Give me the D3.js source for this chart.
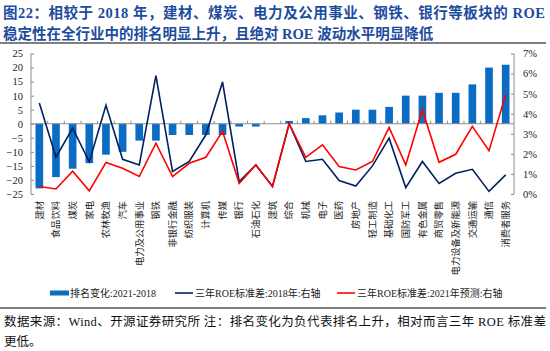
<!DOCTYPE html>
<html><head><meta charset="utf-8">
<script src="https://cdn.jsdelivr.net/npm/d3@7"></script>
<style>
html,body{margin:0;padding:0;background:#fff;}
svg{display:block;}
</style></head>
<body>
<svg id="chart" width="550" height="351"></svg>
<script>
const categories = ["建材","食品饮料","煤炭","家电","农林牧渔","汽车","电力及公用事业","钢铁","非银行金融","纺织服装","计算机","传媒","银行","石油石化","建筑","综合","机械","电子","医药","房地产","轻工制造","基础化工","国防军工","有色金属","商贸零售","电力设备及新能源","交通运输","通信","消费者服务"];
const rankChange = [-23,-19,-16,-14,-11,-10,-6,-6,-4,-4,-4,-4,-1,-1,0,1,2,3,4,5,5,6,10,10,11,11,14,20,21];
const roeStd2018 = [4.53,1.83,3.28,1.6,4.42,1.73,1.45,5.9,1.12,1.62,2.95,5.58,0.62,1.45,0.37,3.5,1.62,1.73,0.67,0.4,1.4,2.78,0.32,1.62,0.53,1.03,1.23,0.13,0.95];
const roeStd2021 = [0.37,0.25,1.14,0.16,1.57,1.28,0.87,2.53,0.87,1.53,1.83,3.12,0.53,1.45,0.37,3.5,1.83,2.45,1.37,1.2,1.62,3.32,1.45,4.2,1.58,1.98,3.37,2.16,4.95];
const leftTicks = [25,20,15,10,5,0,-5,-10,-15,-20,-25];
const rightTicks = [0,1,2,3,4,5,6,7];
const titleLines = ["图22：相较于 2018 年，建材、煤炭、电力及公用事业、钢铁、银行等板块的 ROE","稳定性在全行业中的排名明显上升，且绝对 ROE 波动水平明显降低"];
const legendLabels = ["排名变化:2021-2018","三年ROE标准差:2018年:右轴","三年ROE标准差:2021年预测:右轴"];
const footerLines = ["数据来源：Wind、开源证券研究所 注：排名变化为负代表排名上升，相对而言三年 ROE 标准差","更低。"];

const svg = d3.select("#chart");
const serif = "'Liberation Serif','Times New Roman','Noto Sans CJK SC',serif";
const cjk = "'Liberation Serif','Noto Sans CJK SC',sans-serif";
const blue = "#0A6CC2", navy = "#002060", red = "#FF0000", axisCol = "#8c8c8c";

const L = 31, R = 514, T = 53.5, B = 194;
const x = d3.scaleBand().domain(categories).range([L, R]).paddingInner(0.54).paddingOuter(0.27);
const yL = d3.scaleLinear().domain([-25, 25]).range([B, T]);
const yR = d3.scaleLinear().domain([0, 7]).range([B, T]);
const cx = d => x(d) + x.bandwidth() / 2;

// Title
svg.selectAll("text.title").data(titleLines).join("text")
  .attr("class","title")
  .attr("x", 3).attr("y", (d,i) => 18 + i*20.5)
  .attr("font-family", cjk).attr("font-weight","bold").attr("font-size", 14.5)
  .attr("fill", "#1d4c9e")
  .attr("textLength", (d,i) => i === 0 ? 542 : null)
  .attr("lengthAdjust","spacing")
  .text(d => d);
svg.append("line").attr("x1",0).attr("x2",546).attr("y1",43).attr("y2",43).attr("stroke","#555").attr("stroke-width",1.5);

// Bars
svg.append("g").selectAll("rect").data(categories).join("rect")
  .attr("x", d => x(d)).attr("width", x.bandwidth())
  .attr("y", (d,i) => yL(Math.max(0, rankChange[i])))
  .attr("height", (d,i) => Math.abs(yL(rankChange[i]) - yL(0)))
  .attr("fill", blue);

// Left axis
const gL = svg.append("g").attr("transform", `translate(${L},0)`)
  .call(d3.axisLeft(yL).tickValues(leftTicks).tickSize(-3).tickPadding(8).tickFormat(d3.format("d")));
gL.select(".domain").attr("stroke", axisCol).attr("d", `M0,${T}V${B}`);
gL.selectAll(".tick line").attr("stroke", axisCol);
gL.selectAll(".tick text").attr("font-family", serif).attr("font-size", 10.5).attr("fill","#222");

// Right axis
const gR = svg.append("g").attr("transform", `translate(${R},0)`)
  .call(d3.axisRight(yR).tickValues(rightTicks).tickSize(-3).tickPadding(9).tickFormat(d => d + "%"));
gR.select(".domain").attr("stroke", axisCol).attr("d", `M0,${T}V${B}`);
gR.selectAll(".tick line").attr("stroke", axisCol);
gR.selectAll(".tick text").attr("font-family", serif).attr("font-size", 10.5).attr("fill","#222");

// Zero category axis
const y0 = yL(0);
svg.append("line").attr("x1", L).attr("x2", R).attr("y1", y0).attr("y2", y0).attr("stroke", axisCol).attr("stroke-width",1);
svg.append("g").selectAll("line").data(categories.slice(1)).join("line")
  .attr("x1", d => x(d) - x.step()*x.paddingInner()/2).attr("x2", d => x(d) - x.step()*x.paddingInner()/2)
  .attr("y1", y0).attr("y2", y0 - 3).attr("stroke", axisCol);

// Lines
const line = arr => d3.line().x((d,i) => cx(categories[i])).y(d => yR(d))(arr);
svg.append("path").attr("d", line(roeStd2018)).attr("fill","none").attr("stroke", navy).attr("stroke-width",1.6).attr("stroke-linejoin","miter");
svg.append("path").attr("d", line(roeStd2021)).attr("fill","none").attr("stroke", red).attr("stroke-width",1.6);

// Category labels (rotated)
svg.append("g").selectAll("text").data(categories).join("text")
  .attr("transform", d => `translate(${cx(d)},201) rotate(-90)`)
  .attr("text-anchor","end").attr("dy","0.35em")
  .attr("font-family", cjk).attr("font-size", 9.3).attr("fill","#222")
  .text(d => d);

// Legend
const ly = 293;
svg.append("rect").attr("x",50).attr("y",ly-2.5).attr("width",19).attr("height",5).attr("fill",blue);
svg.append("line").attr("x1",175).attr("x2",193).attr("y1",ly).attr("y2",ly).attr("stroke",navy).attr("stroke-width",1.6);
svg.append("line").attr("x1",337).attr("x2",355).attr("y1",ly).attr("y2",ly).attr("stroke",red).attr("stroke-width",1.6);
svg.selectAll("text.leg").data(legendLabels).join("text").attr("class","leg")
  .attr("x", (d,i) => [70,195,357][i]).attr("y", ly).attr("dy","0.35em")
  .attr("font-family", cjk).attr("font-size", 10).attr("fill","#222")
  .text(d => d);

svg.append("line").attr("x1",0).attr("x2",546).attr("y1",308).attr("y2",308).attr("stroke","#555").attr("stroke-width",1.5);

// Footer
svg.selectAll("text.foot").data(footerLines).join("text").attr("class","foot")
  .attr("x", 4).attr("y", (d,i) => 326 + i*20)
  .attr("font-family", cjk).attr("font-size", 12.5).attr("fill","#111")
  .attr("textLength", (d,i) => i === 0 ? 542 : null).attr("lengthAdjust","spacing")
  .text(d => d);
</script>
</body></html>
